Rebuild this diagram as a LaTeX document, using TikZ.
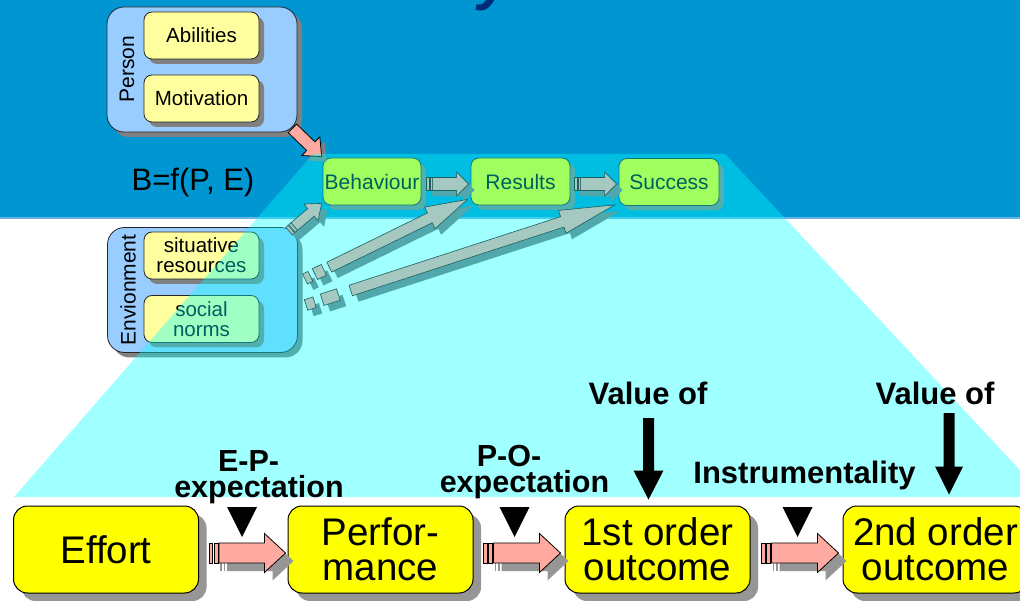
\documentclass[tikz,border=0pt]{standalone}
\usepackage{fontspec}
\setmainfont{Liberation Sans}
\usetikzlibrary{calc,shadows}

\definecolor{bandblue}{RGB}{0,150,210}
\definecolor{bandline}{RGB}{105,178,228}
\definecolor{titleblue}{RGB}{0,45,120}
\definecolor{groupblue}{RGB}{153,204,255}
\definecolor{paleyellow}{RGB}{255,255,160}
\definecolor{boxyellow}{RGB}{255,255,0}
\definecolor{shadowgray}{RGB}{128,128,128}
\definecolor{lowshadow}{RGB}{150,150,150}
\definecolor{salmon}{RGB}{255,170,160}
\definecolor{arrowgray}{RGB}{165,200,192}
\definecolor{arrowshadow}{RGB}{80,168,172}
\definecolor{arrowedge}{RGB}{30,95,95}
\definecolor{wedgecyan}{RGB}{0,255,255}

% block arrow from #2 to #3: body half width #4, head half width #5, head length #6
\newcommand{\fatarrow}[6][]{%
  \coordinate (fa-h) at ($(#3)!#6!(#2)$);
  \path[#1] ($(#2)!#4!90:(#3)$) -- ($(fa-h)!#4!-90:(#2)$) -- ($(fa-h)!#5!-90:(#2)$)
    -- (#3) -- ($(fa-h)!#5!90:(#2)$) -- ($(fa-h)!#4!90:(#2)$) -- ($(#2)!#4!-90:(#3)$) -- cycle;
}
% stripe of an arrow tail: along #2->#3 between distances #4 and #5, half width #6
\newcommand{\tailstripe}[6][]{%
  \coordinate (ts-a) at ($(#2)!#4!(#3)$);
  \coordinate (ts-b) at ($(#2)!#5!(#3)$);
  \path[#1] ($(ts-a)!#6!90:(#3)$) -- ($(ts-b)!#6!90:(#3)$) -- ($(ts-b)!#6!-90:(#3)$)
    -- ($(ts-a)!#6!-90:(#3)$) -- cycle;
}

\tikzset{
  groupbox/.style={draw=black!85, line width=0.8pt, rounded corners=17pt, fill=groupblue,
    minimum width=190pt, minimum height=125pt, inner sep=0pt,
    drop shadow={shadow xshift=5pt, shadow yshift=-5pt, fill=shadowgray, opacity=1}},
  itembox/.style={draw=black!85, line width=0.8pt, rounded corners=8pt, fill=paleyellow,
    minimum width=115pt, minimum height=47pt, inner sep=0pt, align=center,
    font=\fontsize{20.5}{20}\selectfont,
    drop shadow={shadow xshift=5pt, shadow yshift=-5pt, fill=shadowgray, opacity=1}},
  stagebox/.style={draw=black!85, line width=0.8pt, rounded corners=8pt, fill=boxyellow,
    minimum height=47pt, inner sep=0pt, font=\fontsize{21}{20}\selectfont,
    drop shadow={shadow xshift=5pt, shadow yshift=-5pt, fill=shadowgray, opacity=1}},
  bigbox/.style={draw=black, line width=1pt, rounded corners=14pt, fill=boxyellow,
    minimum width=185pt, minimum height=87pt, inner sep=0pt, align=center,
    font=\fontsize{38.5}{35}\selectfont,
    drop shadow={shadow xshift=8pt, shadow yshift=-8pt, fill=lowshadow, opacity=1}},
  sidelabel/.style={rotate=90, inner sep=0pt, font=\fontsize{21}{21}\selectfont},
  boldlabel/.style={anchor=base, inner sep=0pt, font=\fontsize{31}{31}\selectfont\bfseries},
  twoline/.style={inner sep=0pt, align=center, font=\fontsize{30.5}{25.5}\selectfont\bfseries},
  grayarrow/.style={fill=arrowgray, draw=arrowedge, line width=0.6pt},
  grayshadow/.style={fill=arrowshadow},
  pinkarrow/.style={fill=salmon, draw=black, line width=0.8pt},
}

\begin{document}
\begin{tikzpicture}[x=1pt, y=-1pt]
\useasboundingbox (0,0) rectangle (1020,601);
\clip (0,0) rectangle (1020,601);

% background: white page with a blue header band
\fill[white] (0,0) rectangle (1020,601);
\fill[bandblue] (0,0) rectangle (1020,217);
\fill[bandline] (0,217) rectangle (1020,219);

% descender of the heading, cut by the page top
\node[anchor=base, inner sep=0pt, text=titleblue, font=\fontsize{60}{60}\selectfont\bfseries\itshape]
  (heading) at (495,-1) {y};

% Person group
\node[groupbox] (person) at (202,69.5) {};
\node[itembox] (abil) at (201.5,35.5) {Abilities};
\node[itembox] (motiv) at (201.5,98.5) {Motivation};
\node[sidelabel] (personlbl) at (127,69) {Person};

% Environment group
\node[groupbox] (env) at (202.5,290) {};
\node[itembox] (sitres) at (201.5,255.5) {situative\\resources};
\node[itembox] (social) at (201.5,319) {social\\norms};
\node[sidelabel] (envlbl) at (128,290) {Envionment};

% formula
\node[inner sep=0pt, font=\fontsize{31}{31}\selectfont] (formula) at (193,182) {B=f(P, E)};

% behaviour chain
\node[stagebox, minimum width=98pt] (beh) at (372,181.5) {Behaviour};
\node[stagebox, minimum width=99pt] (res) at (520.5,181.5) {Results};
\node[stagebox, minimum width=100pt] (suc) at (669,182) {Success};

% person -> behaviour
\coordinate (pa) at ($(person.south east)+(-5,-4)$);
\coordinate (pb) at ($(beh.north west)+(-1,-1)$);
\begin{scope}[transform canvas={shift={(5pt,-5pt)}}]
  \fatarrow[fill=shadowgray]{pa}{pb}{6pt}{13pt}{15pt}
\end{scope}
\fatarrow[pinkarrow]{pa}{pb}{6pt}{13pt}{15pt}

% translucent projection wedge
\fill[wedgecyan, fill opacity=0.373] (313,154) -- (725,154) -- (1045,497) -- (14,497) -- cycle;

% grey connectors of the upper model
\coordinate (br-a) at ($(beh.east)+(5,2.5)$);
\coordinate (br-b) at ($(res.west)+(-2,2.5)$);
\coordinate (rs-a) at ($(res.east)+(4,2.5)$);
\coordinate (rs-b) at ($(suc.west)+(-2,2)$);
\coordinate (eb-a) at (289,231);
\coordinate (eb-b) at ($(beh.south west)+(-1,-2)$);
\coordinate (er-a) at (305,279);
\coordinate (er-b) at ($(res.south west)+(-3,-6)$);
\coordinate (es-a) at (306,305);
\coordinate (es-b) at ($(suc.south west)+(-4,-1)$);

\begin{scope}[transform canvas={shift={(6pt,-6pt)}}]
  \tailstripe[grayshadow]{br-a}{br-b}{0pt}{6pt}{6.5pt}
  \fatarrow[grayshadow]{$(br-a)!6pt!(br-b)$}{br-b}{6.5pt}{12pt}{12pt}
  \tailstripe[grayshadow]{rs-a}{rs-b}{0pt}{6pt}{6.5pt}
  \fatarrow[grayshadow]{$(rs-a)!6pt!(rs-b)$}{rs-b}{6.5pt}{12pt}{12pt}
  \tailstripe[grayshadow]{eb-a}{eb-b}{0pt}{7pt}{5pt}
  \fatarrow[grayshadow]{$(eb-a)!7pt!(eb-b)$}{eb-b}{5pt}{11pt}{14pt}
  \tailstripe[grayshadow]{er-a}{er-b}{0pt}{6pt}{5.5pt}
  \tailstripe[grayshadow]{er-a}{er-b}{11pt}{21pt}{6pt}
  \fatarrow[grayshadow]{$(er-a)!27pt!(er-b)$}{er-b}{5.5pt}{12pt}{42pt}
  \tailstripe[grayshadow]{es-a}{es-b}{0pt}{9pt}{5.5pt}
  \tailstripe[grayshadow]{es-a}{es-b}{17pt}{34pt}{6pt}
  \fatarrow[grayshadow]{$(es-a)!47pt!(es-b)$}{es-b}{5.5pt}{12pt}{55pt}
\end{scope}
\tailstripe[grayarrow]{br-a}{br-b}{0pt}{2.5pt}{6.5pt}
\tailstripe[grayarrow]{br-a}{br-b}{3.5pt}{6pt}{6.5pt}
\fatarrow[grayarrow]{$(br-a)!6pt!(br-b)$}{br-b}{6.5pt}{12pt}{12pt}
\tailstripe[grayarrow]{rs-a}{rs-b}{0pt}{2.5pt}{6.5pt}
\tailstripe[grayarrow]{rs-a}{rs-b}{3.5pt}{6pt}{6.5pt}
\fatarrow[grayarrow]{$(rs-a)!6pt!(rs-b)$}{rs-b}{6.5pt}{12pt}{12pt}
\tailstripe[grayarrow]{eb-a}{eb-b}{0pt}{3pt}{5pt}
\tailstripe[grayarrow]{eb-a}{eb-b}{4pt}{7pt}{5pt}
\fatarrow[grayarrow]{$(eb-a)!7pt!(eb-b)$}{eb-b}{5pt}{11pt}{14pt}
\tailstripe[grayarrow]{er-a}{er-b}{0pt}{6pt}{5.5pt}
\tailstripe[grayarrow]{er-a}{er-b}{11pt}{21pt}{6pt}
\fatarrow[grayarrow]{$(er-a)!27pt!(er-b)$}{er-b}{5.5pt}{12pt}{42pt}
\tailstripe[grayarrow]{es-a}{es-b}{0pt}{9pt}{5.5pt}
\tailstripe[grayarrow]{es-a}{es-b}{17pt}{34pt}{6pt}
\fatarrow[grayarrow]{$(es-a)!47pt!(es-b)$}{es-b}{5.5pt}{12pt}{55pt}

% lower model: expectancy chain
\node[bigbox] (effort) at (106,549.5) {Effort};
\node[bigbox] (perf) at (380.5,549.5) {Perfor-\\mance};
\node[bigbox] (out1) at (657.5,549.5) {1st order\\outcome};
\node[bigbox] (out2) at (935.5,549.5) {2nd order\\outcome};

% labels
\node[twoline, anchor=base] (ep) at (259,497) {\hspace*{-21pt}E-P-\\expectation};
\node[twoline, anchor=base] (po) at (524.5,492) {\hspace*{-31pt}P-O-\\expectation};
\node[boldlabel] (val1) at (648,404) {Value of};
\node[boldlabel] (instr) at (804.5,483) {Instrumentality};
\node[boldlabel] (val2) at (935,404) {Value of};

% value arrows
\coordinate (v1a) at ($(val1.base)+(0.5,14)$);
\coordinate (v1b) at ($(out1.north)+(-9,-6)$);
\coordinate (v2a) at ($(val2.base)+(14,9)$);
\coordinate (v2b) at ($(out2.north)+(13.5,-11)$);
\fatarrow[fill=black]{v1a}{v1b}{5.5pt}{15pt}{29pt}
\fatarrow[fill=black]{v2a}{v2b}{5.5pt}{14pt}{28pt}

% pink connectors with striped tails
\coordinate (a1a) at ($(effort.east)+(10,3.5)$);
\coordinate (a1b) at ($(perf.west)+(-2,3.5)$);
\coordinate (a2a) at ($(perf.east)+(10,3.5)$);
\coordinate (a2b) at ($(out1.west)+(-4,3.5)$);
\coordinate (a3a) at ($(out1.east)+(11,3.5)$);
\coordinate (a3b) at ($(out2.west)+(-4,3.5)$);
\foreach \s/\e in {a1a/a1b, a2a/a2b, a3a/a3b}{
  \begin{scope}[transform canvas={shift={(8pt,-8pt)}}]
    \tailstripe[fill=lowshadow]{\s}{\e}{3pt}{4.5pt}{10pt}
    \tailstripe[fill=lowshadow]{\s}{\e}{6.5pt}{8pt}{10pt}
    \fatarrow[fill=lowshadow]{$(\s)!10pt!(\e)$}{\e}{10pt}{19.5pt}{21pt}
  \end{scope}
  \tailstripe[pinkarrow]{\s}{\e}{0pt}{3.5pt}{10pt}
  \tailstripe[pinkarrow]{\s}{\e}{5pt}{9pt}{10pt}
  \fatarrow[pinkarrow]{$(\s)!10pt!(\e)$}{\e}{10pt}{19.5pt}{21pt}
}

% expectation markers
\fill[black] ($(a1a)!33pt!(a1b)+(-15,-46)$) -- ++(30,0) -- ++(-15,30) -- cycle;
\fill[black] ($(a2a)!31pt!(a2b)+(-15,-46)$) -- ++(30,0) -- ++(-15,30) -- cycle;
\fill[black] ($(a3a)!36pt!(a3b)+(-15,-46)$) -- ++(30,0) -- ++(-15,30) -- cycle;
\end{tikzpicture}
\end{document}
